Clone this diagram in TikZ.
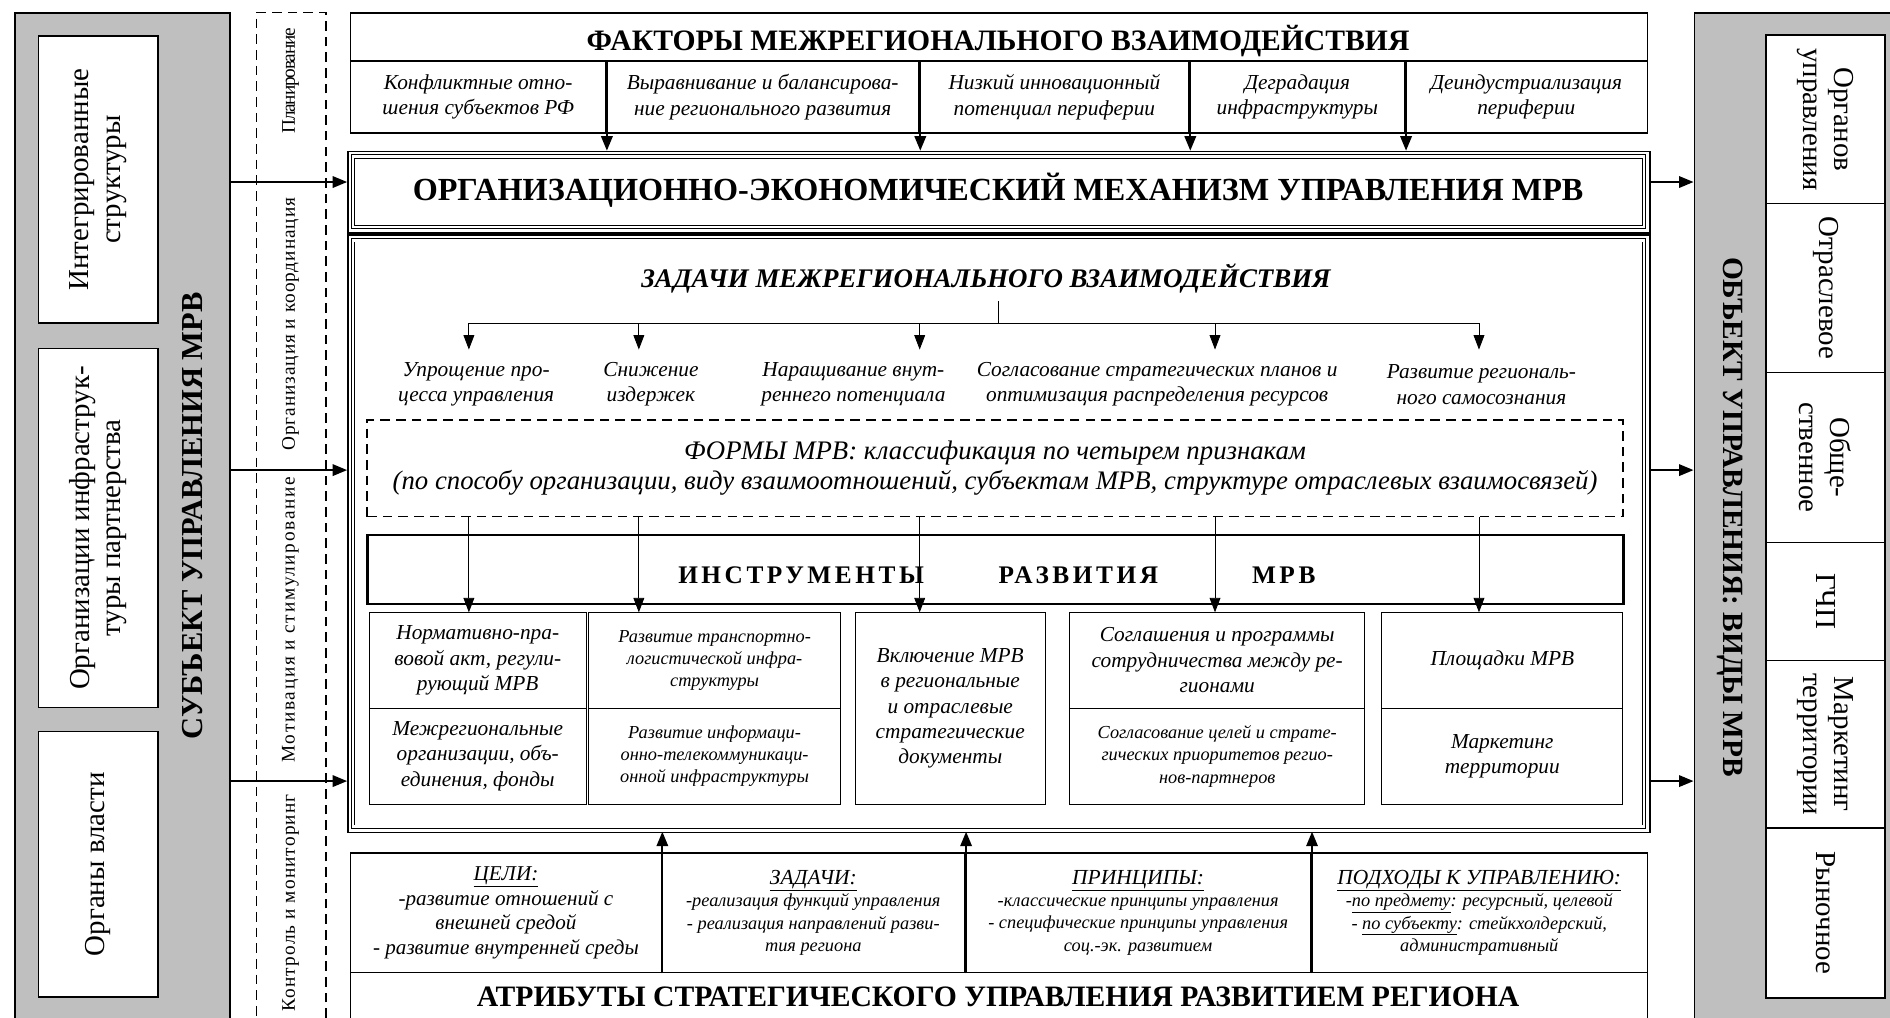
\documentclass[tikz,border=0pt]{standalone}
\usepackage{fontspec}
\setmainfont{Liberation Serif}
\usetikzlibrary{arrows.meta}

\tikzset{
  panel/.style={draw,line width=1.3pt,fill=black!25,anchor=north west,inner sep=0pt},
  wbox/.style={draw,line width=1.3pt,fill=white,inner sep=0pt,align=center,font=\fontsize{24}{26}\selectfont},
  hbox/.style={draw,line width=1.5pt,anchor=north west,inner sep=0pt,align=center},
  tbox/.style={draw,line width=0.7pt,anchor=north west,inner sep=0pt,align=center},
  dbox/.style={draw,line width=1.1pt,dash pattern=on 8pt off 5pt,anchor=north west,inner sep=0pt},
  outerfr/.style={draw,line width=1.3pt,anchor=north west,inner sep=0pt},
  innerfr/.style={draw,line width=0.6pt,double,double distance=2.2pt,anchor=north west,inner sep=0pt},
  fatarr/.style={line width=1.6pt,-{Triangle[length=12pt,width=9.5pt]}},
  thinarr/.style={line width=0.7pt,-{Triangle[length=12pt,width=9pt]}},
  txt/.style={align=center,font=\fontsize{17.7}{21}\selectfont\itshape},
  smalltxt/.style={align=center,font=\fontsize{15.2}{18.5}\selectfont\itshape},
  funclab/.style={rotate=90,font=\fontsize{16}{18}\selectfont},
  sidehead/.style={font=\fontsize{25}{28}\selectfont\bfseries},
}

\begin{document}
\begin{tikzpicture}[x=1pt,y=-1pt]
  \useasboundingbox (0,0) rectangle (1568,844);
  \clip (0,0) rectangle (1568,844);
  \fill[white] (0,0) rectangle (1568,844);

  \coordinate (r1) at (0,151);
  \coordinate (r2) at (0,390);
  \coordinate (r3) at (0,648);

  % subject of management
  \node[panel,minimum width=178pt,minimum height=880pt] (subj) at (12,10) {};
  \node[wbox,rotate=90,minimum width=238pt,minimum height=99pt] (intg) at (81.5,149) {Интегрированные\\структуры};
  \node[wbox,rotate=90,minimum width=298pt,minimum height=99pt] (infr) at (81.5,438) {Организации инфраструк-\\туры партнерства};
  \node[wbox,rotate=90,minimum width=220pt,minimum height=99pt] (auth) at (81.5,717) {Органы власти};
  \node[sidehead,font=\fontsize{25.3}{28}\selectfont\bfseries,rotate=90] (subjt) at (160,428) {СУБЪЕКТ УПРАВЛЕНИЯ МРВ};

  % management functions
  \node[dbox,minimum width=58pt,minimum height=880pt] (funcs) at (212,10) {};
  \node[funclab] (plan) at (241,67) {\addfontfeature{LetterSpace=-6}Планирование};
  \node[funclab] (coord) at (241,269) {\addfontfeature{LetterSpace=5}Организация и координация};
  \node[funclab] (motiv) at (241,514) {\addfontfeature{LetterSpace=9}Мотивация и стимулирование};
  \node[funclab] (ctrl) at (241,749) {\addfontfeature{LetterSpace=6}Контроль и мониторинг};

  % factors
  \node[hbox,minimum width=1076pt,minimum height=40pt] (facth) at (290,10) {};
  \node[anchor=base,font=\fontsize{24.6}{28}\selectfont\bfseries] (factt) at (828,42) {ФАКТОРЫ МЕЖРЕГИОНАЛЬНОГО ВЗАИМОДЕЙСТВИЯ};
  \node[hbox,txt,minimum width=212pt,minimum height=59.5pt] (f1) at (290,50) {Конфликтные отно-\\шения субъектов РФ};
  \node[hbox,txt,minimum width=260pt,minimum height=59.5pt] (f2) at (502,50) {Выравнивание и балансирова-\\ние регионального развития};
  \node[hbox,txt,minimum width=224pt,minimum height=59.5pt] (f3) at (762,50) {Низкий инновационный\\потенциал периферии};
  \node[hbox,txt,minimum width=179pt,minimum height=59.5pt] (f4) at (986,50) {Деградация\\инфраструктуры};
  \node[hbox,txt,minimum width=201pt,minimum height=59.5pt] (f5) at (1165,50) {Деиндустриализация\\периферии};

  % mechanism
  \node[outerfr,minimum width=1080pt,minimum height=67.5pt] (mech) at (288,125) {};
  \node[innerfr,minimum width=1071pt,minimum height=58.5pt] (mechin) at (292.5,129.5) {};
  \node[font=\fontsize{26.7}{30}\selectfont\bfseries] (mecht) at (828,158) {ОРГАНИЗАЦИОННО-ЭКОНОМИЧЕСКИЙ МЕХАНИЗМ УПРАВЛЕНИЯ МРВ};
  \node[outerfr,minimum width=1080pt,minimum height=495.5pt] (body) at (288,194.5) {};
  \node[innerfr,minimum width=1071pt,minimum height=486.5pt] (bodyin) at (292.5,199) {};
  \coordinate (mtl) at (288,125);
  \coordinate (mbr) at (1368,690);

  \foreach \f in {f1,f2,f3,f4}
    \draw[fatarr] (\f.north east) -- (\f.north east |- mtl);
  \foreach \r in {r1,r2,r3}
    \draw[fatarr] (subj.east |- \r) -- (mtl |- \r);

  % tasks
  \node[font=\fontsize{22.3}{26}\selectfont\bfseries\itshape] (zt) at (818,231) {ЗАДАЧИ МЕЖРЕГИОНАЛЬНОГО ВЗАИМОДЕЙСТВИЯ};
  \coordinate (stem) at (828,250);
  \coordinate (fork) at (828,268);
  \coordinate (p1) at (389,290);
  \coordinate (p2) at (530,290);
  \coordinate (p3) at (763,290);
  \coordinate (p4) at (1008,290);
  \coordinate (p5) at (1227,290);
  \draw[line width=0.7pt] (stem) -- (fork);
  \foreach \p in {p1,p2,p3,p4,p5}
    \draw[thinarr] (fork) -| (\p);
  \node[txt] (t1) at (395,319) {Упрощение про-\\цесса управления};
  \node[txt] (t2) at (540,319) {Снижение\\издержек};
  \node[txt] (t3) at (708,319) {Наращивание внут-\\реннего потенциала};
  \node[txt] (t4) at (960,319) {Согласование стратегических планов и\\оптимизация распределения ресурсов};
  \node[txt] (t5) at (1229,319) {Развитие региональ-\\ного самосознания};

  % forms
  \node[dbox,minimum width=1042pt,minimum height=80pt,align=center,font=\fontsize{22.2}{25}\selectfont\itshape] (forms) at (304,348) {ФОРМЫ МРВ: классификация по четырем признакам\\(по способу организации, виду взаимоотношений, субъектам МРВ, структуре отраслевых взаимосвязей)};

  % instruments
  \node[hbox,line width=1.8pt,minimum width=1042pt,minimum height=57pt] (instr) at (304,443) {};
  \node[font=\fontsize{21}{24}\selectfont\bfseries\addfontfeature{LetterSpace=14}] (instrt) at (827,477) {ИНСТРУМЕНТЫ\hspace{62pt}РАЗВИТИЯ\hspace{78pt}МРВ};

  \node[tbox,txt,minimum width=180pt,minimum height=79pt] (ta1) at (306,508) {Нормативно-пра-\\вовой акт, регули-\\рующий МРВ};
  \node[tbox,txt,minimum width=180pt,minimum height=80pt] (ta2) at (306,587) {Межрегиональные\\организации, объ-\\единения, фонды};
  \node[tbox,smalltxt,minimum width=209pt,minimum height=79pt] (tb1) at (488,508) {Развитие транспортно-\\логистической инфра-\\структуры};
  \node[tbox,smalltxt,minimum width=209pt,minimum height=80pt] (tb2) at (488,587) {Развитие информаци-\\онно-телекоммуникаци-\\онной инфраструктуры};
  \node[tbox,txt,minimum width=158pt,minimum height=159pt] (tc) at (709,508) {Включение МРВ\\в региональные\\и отраслевые\\стратегические\\документы};
  \node[tbox,txt,minimum width=245pt,minimum height=79pt] (td1) at (887,508) {Соглашения и программы\\сотрудничества между ре-\\гионами};
  \node[tbox,smalltxt,minimum width=245pt,minimum height=80pt] (td2) at (887,587) {Согласование целей и страте-\\гических приоритетов регио-\\нов-партнеров};
  \node[tbox,txt,minimum width=200pt,minimum height=79pt] (te1) at (1146,508) {Площадки МРВ};
  \node[tbox,txt,minimum width=200pt,minimum height=80pt] (te2) at (1146,587) {Маркетинг\\территории};

  \foreach \p/\t in {p1/ta1,p2/tb1,p3/tc,p4/td1,p5/te1}
    \draw[thinarr] (forms.south -| \p) -- (\t.north -| \p);

  % object of management
  \node[panel,minimum width=180pt,minimum height=880pt] (obj) at (1405,10) {};
  \node[wbox,rotate=-90,minimum width=140pt,minimum height=99pt] (o1) at (1514.5,99) {Органов\\управления};
  \node[wbox,rotate=-90,minimum width=140pt,minimum height=99pt] (o2) at (1514.5,239) {Отраслевое};
  \node[wbox,rotate=-90,minimum width=141pt,minimum height=99pt] (o3) at (1514.5,379.5) {Обще-\\ственное};
  \node[wbox,rotate=-90,minimum width=98pt,minimum height=99pt] (o4) at (1514.5,499) {ГЧП};
  \node[wbox,rotate=-90,minimum width=139pt,minimum height=99pt] (o5) at (1514.5,617.5) {Маркетинг\\территории};
  \node[wbox,rotate=-90,minimum width=141pt,minimum height=99pt] (o6) at (1514.5,757.5) {Рыночное};
  \node[sidehead,font=\fontsize{24.4}{28}\selectfont\bfseries,rotate=-90] (objt) at (1435,429) {ОБЪЕКТ УПРАВЛЕНИЯ: ВИДЫ МРВ};

  \foreach \r in {r1,r2,r3}
    \draw[fatarr] (mbr |- \r) -- (obj.west |- \r);

  % attributes
  \node[hbox,txt,font=\fontsize{17.5}{20.5}\selectfont\itshape,minimum width=258pt,minimum height=99pt] (a1) at (290,707) {\underline{ЦЕЛИ:}\\-развитие отношений с\\внешней средой\\- развитие внутренней среды};
  \node[hbox,smalltxt,minimum width=252pt,minimum height=99pt] (a2) at (548,707) {{\fontsize{17.8}{18.5}\selectfont\underline{ЗАДАЧИ:}}\\-реализация функций управления\\- реализация направлений разви-\\тия региона};
  \node[hbox,smalltxt,minimum width=287pt,minimum height=99pt] (a3) at (800,707) {{\fontsize{17.8}{18.5}\selectfont\underline{ПРИНЦИПЫ:}}\\-классические принципы управления\\- специфические принципы управления\\соц.-эк. развитием};
  \node[hbox,smalltxt,minimum width=279pt,minimum height=99pt] (a4) at (1087,707) {{\fontsize{17.8}{18.5}\selectfont\underline{ПОДХОДЫ К УПРАВЛЕНИЮ:}}\\-\underline{по предмету}: ресурсный, целевой\\- \underline{по субъекту}: стейкхолдерский,\\административный};
  \node[hbox,minimum width=1076pt,minimum height=70pt] (attr) at (290,806) {};
  \node[anchor=base,font=\fontsize{24.6}{26}\selectfont\bfseries] (attrt) at (828,835) {АТРИБУТЫ СТРАТЕГИЧЕСКОГО УПРАВЛЕНИЯ РАЗВИТИЕМ РЕГИОНА};

  \foreach \a in {a1,a2,a3}
    \draw[fatarr] (\a.south east) -- (\a.south east |- mbr);
\end{tikzpicture}
\end{document}
